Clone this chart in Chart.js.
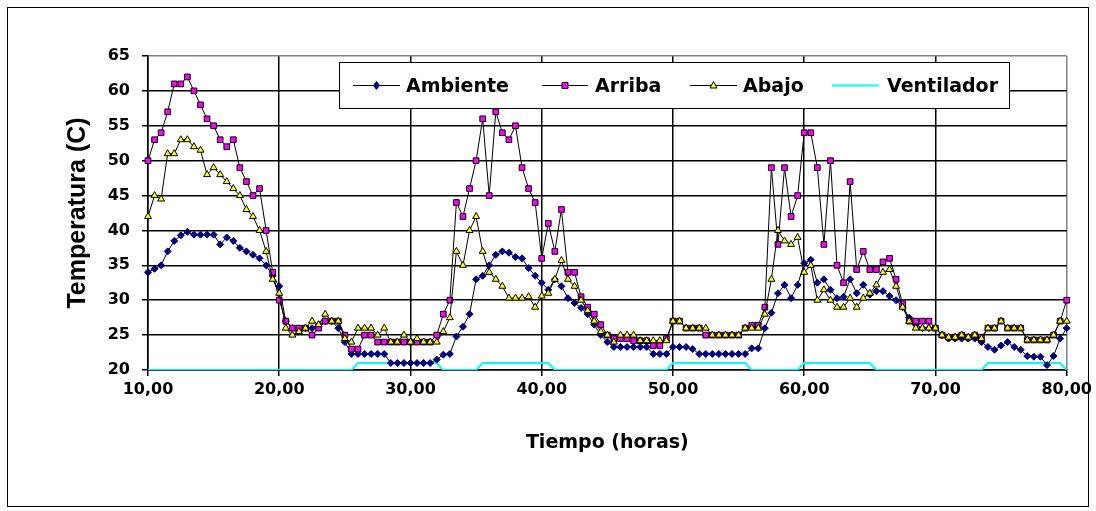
<!DOCTYPE html>
<html>
<head>
<meta charset="utf-8">
<title>Temperatura vs Tiempo</title>
<script src="https://cdn.jsdelivr.net/npm/chart.js@4.4.1/dist/chart.umd.min.js"></script>
<style>
    html, body { margin: 0; padding: 0; background: #fff; }
    #wrap { width: 1096px; height: 511px; }
</style>
</head>
<body>
<div id="wrap"><canvas id="temp-chart" width="1096" height="511"></canvas></div>
<script>
// Sample times: one reading every half hour from 10,00 to 80,00 h
const START_HOUR = 10;
const STEP_HOURS = 0.5;

// Temperatures (C), one row = 5 hours (10 samples)
const ambiente = [
    34, 34.5, 35, 37, 38.5, 39.3, 39.8, 39.4, 39.4, 39.4,
    39.4, 38, 39, 38.5, 37.5, 37, 36.5, 36, 35, 33.5,
    32, 27, 26, 25.5, 26, 26, 26.5, 27, 27, 26,
    24, 22.3, 22.3, 22.3, 22.3, 22.3, 22.3, 21, 21, 21,
    21, 21, 21, 21, 21.5, 22.2, 22.3, 24.8, 26.2, 28,
    33, 33.5, 35, 36.5, 37, 36.8, 36.2, 36, 34.6, 33.5,
    32.5, 31.5, 33, 32, 30.3, 29.6, 28.9, 28, 26.5, 25,
    24, 23.3, 23.3, 23.3, 23.3, 23.3, 23.3, 22.3, 22.3, 22.3,
    23.3, 23.3, 23.3, 23, 22.3, 22.3, 22.3, 22.3, 22.3, 22.3,
    22.3, 22.3, 23.1, 23.1, 26, 28.2, 31, 32.2, 30.3, 32.2,
    35.3, 35.8, 32.5, 33, 31.5, 30.3, 30.5, 33, 31, 32.2,
    30.8, 31.3, 31.3, 30.6, 30, 29, 27.5, 26.5, 26, 26,
    26, 25, 24.5, 24.5, 24.5, 24.5, 24.5, 24, 23.3, 22.9,
    23.5, 24, 23.3, 22.9, 22, 21.9, 21.9, 20.7, 22, 24.5,
    26
];

const arriba = [
    50, 53, 54, 57, 61, 61, 62, 60, 58, 56,
    55, 53, 52, 53, 49, 47, 45, 46, 40, 34,
    30, 27, 26, 26, 26, 25, 26, 27, 27, 27,
    25, 23, 23, 25, 25, 24, 24, 24, 24, 24,
    24, 24, 24, 24, 25, 28, 30, 44, 42, 46,
    50, 56, 45, 57, 54, 53, 55, 49, 46, 44,
    36, 41, 37, 43, 34, 34, 30.5, 29, 28, 26.5,
    25, 24.5, 24.5, 24.5, 24.2, 24.2, 24.2, 23.5, 23.5, 24.5,
    27, 27, 26, 26, 26, 25, 25, 25, 25, 25,
    25, 26, 26.4, 26.4, 29, 49, 38, 49, 42, 45,
    54, 54, 49, 38, 50, 35, 32.5, 47, 34.4, 37,
    34.4, 34.4, 35.5, 36, 33, 29.5, 27, 27, 27, 27,
    26, 25, 24.7, 24.7, 25, 24.7, 25, 24.7, 26, 26,
    27, 26, 26, 26, 24.3, 24.3, 24.3, 24.3, 25, 27,
    30
];

const abajo = [
    42, 45, 44.5, 51, 51, 53, 53, 52, 51.5, 48,
    49, 48, 47, 46, 45, 43, 42, 40, 37, 33,
    31, 26, 25, 25.5, 26, 27, 26.5, 28, 27, 27,
    24.5, 24, 26, 26, 26, 25, 26, 24, 24, 25,
    24, 24.5, 24, 24, 24, 25.5, 27.5, 37, 35, 40,
    42, 37, 34, 33, 32, 30.3, 30.3, 30.3, 30.5, 29,
    30.6, 31, 33, 35.7, 33, 32, 30, 28.5, 27, 25.5,
    25, 24, 25, 25, 25, 24.2, 24.2, 24.2, 24.2, 24.2,
    27, 27, 26, 26, 26, 26, 25, 25, 25, 25,
    25, 26, 26, 26, 28, 33, 40, 38.5, 38, 39,
    34, 35, 30, 31.5, 30, 29, 29, 30.3, 29, 30.3,
    31, 32.2, 34, 34.4, 32, 29, 27, 26, 26, 26,
    26, 25, 24.7, 24.7, 25, 24.7, 25, 24.5, 26, 26,
    27, 26, 26, 26, 24.3, 24.3, 24.3, 24.3, 25, 27,
    27
];

// Fan state drawn as 20 (off) / 21 (on)
const ventilador = [
    20, 20, 20, 20, 20, 20, 20, 20, 20, 20,
    20, 20, 20, 20, 20, 20, 20, 20, 20, 20,
    20, 20, 20, 20, 20, 20, 20, 20, 20, 20,
    20, 20, 21, 21, 21, 21, 21, 21, 21, 21,
    21, 21, 21, 21, 21, 20, 20, 20, 20, 20,
    20, 21, 21, 21, 21, 21, 21, 21, 21, 21,
    21, 21, 20, 20, 20, 20, 20, 20, 20, 20,
    20, 20, 20, 20, 20, 20, 20, 20, 20, 20,
    21, 21, 21, 21, 21, 21, 21, 21, 21, 21,
    21, 21, 20, 20, 20, 20, 20, 20, 20, 20,
    21, 21, 21, 21, 21, 21, 21, 21, 21, 21,
    21, 20, 20, 20, 20, 20, 20, 20, 20, 20,
    20, 20, 20, 20, 20, 20, 20, 20, 21, 21,
    21, 21, 21, 21, 21, 21, 21, 21, 21, 21,
    20
];

const seriesNames = ['Ambiente', 'Arriba', 'Abajo', 'Ventilador'];

// x/y pairs for the linear time axis
function toPoints(values) {
    return values.map((v, i) => ({ x: START_HOUR + i * STEP_HOURS, y: v }));
}

const BOLD = 'DejaVu Sans';

// Legend box inside the plot + outer chart border
const excelLegend = {
    id: 'excelLegend',
    afterDraw(chart) {
        const ctx = chart.ctx;
        ctx.save();

        // outer border of the chart
        ctx.strokeStyle = '#000';
        ctx.lineWidth = 1;
        ctx.strokeRect(7.5, 7.5, 1081, 499);

        // legend frame
        ctx.fillStyle = '#fff';
        ctx.fillRect(339.5, 62.5, 670, 46);
        ctx.strokeRect(339.5, 62.5, 670, 46);

        const rows = [
            { x0: 353, x1: 400, tx: 406 },
            { x0: 542, x1: 588, tx: 595 },
            { x0: 690, x1: 737, tx: 743 },
            { x0: 832, x1: 879, tx: 887 }
        ];
        const ly = 85.5;
        ctx.font = 'bold 19px "' + BOLD + '"';
        ctx.textBaseline = 'alphabetic';
        ctx.textAlign = 'left';

        rows.forEach((r, i) => {
            const ds = chart.data.datasets[i];
            ctx.strokeStyle = ds.borderColor;
            ctx.lineWidth = ds.borderWidth;
            ctx.beginPath();
            ctx.moveTo(r.x0, ly);
            ctx.lineTo(r.x1, ly);
            ctx.stroke();

            const mx = (r.x0 + r.x1) / 2;
            if (ds.pointRadius > 0) {
                ctx.fillStyle = ds.pointBackgroundColor;
                ctx.strokeStyle = ds.pointBorderColor;
                ctx.lineWidth = 1;
                ctx.beginPath();
                if (ds.pointStyle === 'rectRot') {
                    ctx.moveTo(mx, ly - 4); ctx.lineTo(mx + 3, ly);
                    ctx.lineTo(mx, ly + 4); ctx.lineTo(mx - 3, ly);
                } else if (ds.pointStyle === 'rect') {
                    ctx.rect(mx - 3, ly - 3, 6, 6);
                } else {
                    ctx.moveTo(mx, ly - 4); ctx.lineTo(mx + 3.5, ly + 2.5);
                    ctx.lineTo(mx - 3.5, ly + 2.5);
                }
                ctx.closePath();
                ctx.fill();
                ctx.stroke();
            }

            ctx.fillStyle = '#000';
            ctx.fillText(seriesNames[i], r.tx, 92);
        });

        ctx.restore();
    }
};

const ctx = document.getElementById('temp-chart').getContext('2d');

new Chart(ctx, {
    type: 'line',
    data: {
        datasets: [
            {
                label: seriesNames[0],
                data: toPoints(ambiente),
                borderColor: '#000000',
                borderWidth: 1,
                pointStyle: 'rectRot',
                pointRadius: 3.5,
                pointBackgroundColor: '#000080',
                pointBorderColor: '#000080',
                pointBorderWidth: 1,
                order: 3,
                clip: false
            },
            {
                label: seriesNames[1],
                data: toPoints(arriba),
                borderColor: '#000000',
                borderWidth: 1,
                pointStyle: 'rect',
                pointRadius: 4,
                pointBackgroundColor: '#FF00FF',
                pointBorderColor: '#000000',
                pointBorderWidth: 1,
                order: 2,
                clip: false
            },
            {
                label: seriesNames[2],
                data: toPoints(abajo),
                borderColor: '#000000',
                borderWidth: 1,
                pointStyle: 'triangle',
                pointRadius: 4,
                pointBackgroundColor: '#FFFF00',
                pointBorderColor: '#000000',
                pointBorderWidth: 1,
                order: 1,
                clip: false
            },
            {
                label: seriesNames[3],
                data: toPoints(ventilador),
                borderColor: '#00FFFF',
                borderWidth: 2,
                pointRadius: 0,
                order: 4
            }
        ]
    },
    options: {
        responsive: false,
        animation: false,
        tension: 0,
        layout: { padding: { top: 56, right: 28, left: 0, bottom: 0 } },
        plugins: {
            legend: { display: false },
            tooltip: { enabled: false }
        },
        scales: {
            x: {
                type: 'linear',
                min: 10,
                max: 80,
                ticks: {
                    stepSize: 10,
                    autoSkip: false,
                    maxRotation: 0,
                    padding: 4,
                    color: '#000',
                    font: { family: BOLD, weight: 'bold', size: 16 },
                    callback: v => v.toFixed(2).replace('.', ',')
                },
                grid: {
                    color: c => (c.tick && c.tick.value === 80 ? '#808080' : '#000'),
                    tickColor: '#000',
                    tickLength: 6,
                    lineWidth: 1.5
                },
                border: { color: '#000', width: 1.5 },
                title: {
                    display: true,
                    text: 'Tiempo (horas)',
                    color: '#000',
                    font: { family: BOLD, weight: 'bold', size: 19 },
                    padding: { top: 0, bottom: 57 }
                },
                afterFit(scale) { scale.height = 141; }
            },
            y: {
                min: 20,
                max: 65,
                ticks: {
                    stepSize: 5,
                    padding: 12,
                    color: '#000',
                    font: { family: BOLD, weight: 'bold', size: 16 }
                },
                grid: {
                    color: c => (c.tick && c.tick.value === 65 ? '#808080' : '#000'),
                    tickColor: '#000',
                    tickLength: 6,
                    lineWidth: 1.5
                },
                border: { color: '#000', width: 1.5 },
                title: {
                    display: true,
                    text: 'Temperatura (C)',
                    color: '#000',
                    font: { family: 'Liberation Sans', weight: 'bold', size: 25 },
                    padding: { top: 63, bottom: 0 }
                },
                afterFit(scale) { scale.width = 148; }
            }
        }
    },
    plugins: [excelLegend]
});
</script>
</body>
</html>
